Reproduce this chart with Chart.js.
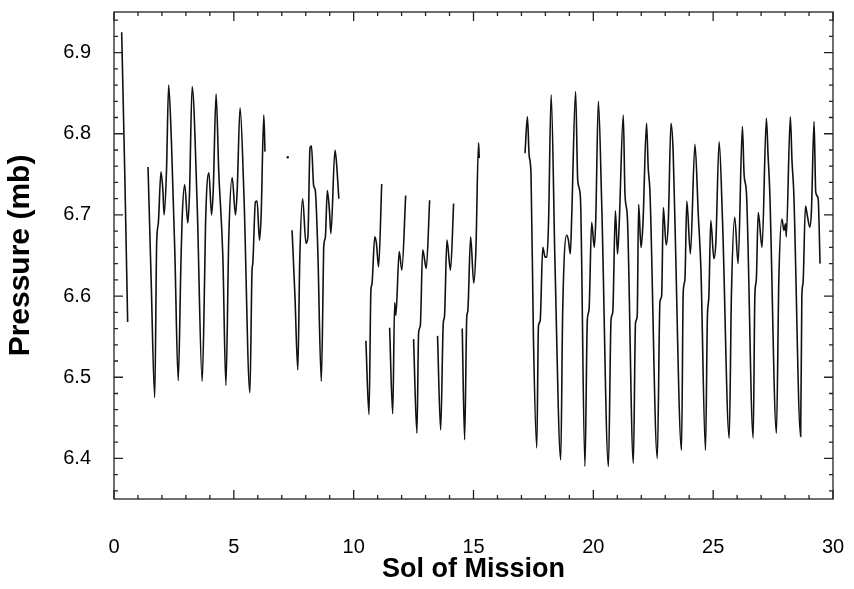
<!DOCTYPE html>
<html>
<head>
<meta charset="utf-8">
<script src="https://cdn.jsdelivr.net/npm/chart.js@4"></script>
<style>
  html, body { margin: 0; padding: 0; background: #fff; }
  #wrap { width: 854px; height: 589px; }
</style>
</head>
<body>
<div id="wrap"><canvas id="myChart" width="854" height="589"></canvas></div>
<script>
// sol of mission, pressure in mb; null pressure = data gap
const sol = [
    0.32, 0.45, 0.57, 1.0,
    1.42, 1.55, 1.70, 1.78, 1.85, 1.96, 2.04, 2.09, 2.19, 2.28, 2.40, 2.54, 2.68, 2.79, 2.84, 2.95,
    3.08, 3.15, 3.26, 3.47, 3.68, 3.79, 3.82, 3.96, 4.07, 4.14, 4.26, 4.37, 4.54, 4.67, 4.79, 4.93,
    5.07, 5.14, 5.26, 5.42, 5.67, 5.76, 5.79, 5.90, 5.97, 6.07, 6.14, 6.25, 6.30, 6.8,
    7.43, 7.55, 7.67, 7.75, 7.87, 8.01, 8.09, 8.18, 8.24, 8.33, 8.40, 8.50, 8.65, 8.74, 8.75, 8.82,
    8.90, 8.99, 9.05, 9.22, 9.29, 9.38, 10.0,
    10.51, 10.64, 10.72, 10.76, 10.88, 10.95, 11.04, 11.17, 11.3,
    11.50, 11.63, 11.71, 11.76, 11.90, 12.01, 12.17, 12.3,
    12.50, 12.64, 12.71, 12.78, 12.88, 13.03, 13.17, 13.3,
    13.50, 13.63, 13.74, 13.79, 13.89, 14.04, 14.17, 14.3,
    14.53, 14.63, 14.72, 14.76, 14.88, 15.01, 15.10, 15.21, 15.24, 16.0,
    17.15, 17.25, 17.32, 17.40, 17.50, 17.64, 17.71, 17.78, 17.89, 17.99, 18.06, 18.13, 18.24, 18.40,
    18.64, 18.72, 18.89, 18.96, 19.04, 19.10, 19.26, 19.35, 19.46, 19.65, 19.75, 19.82, 19.93, 20.04,
    20.10, 20.21, 20.35, 20.63, 20.74, 20.81, 20.92, 21.01, 21.08, 21.25, 21.32, 21.42, 21.67, 21.76,
    21.83, 21.89, 21.99, 22.07, 22.22, 22.29, 22.36, 22.67, 22.78, 22.85, 22.92, 23.04, 23.13, 23.24,
    23.33, 23.40, 23.68, 23.75, 23.82, 23.90, 24.05, 24.24, 24.38, 24.49, 24.68, 24.76, 24.82, 24.90,
    25.03, 25.11, 25.25, 25.39, 25.67, 25.76, 25.90, 26.04, 26.22, 26.29, 26.39, 26.67, 26.74, 26.80,
    26.88, 27.04, 27.22, 27.29, 27.36, 27.64, 27.74, 27.87, 27.95, 28.02, 28.05, 28.22, 28.29, 28.36,
    28.65, 28.70, 28.75, 28.85, 28.93, 29.03, 29.10, 29.21, 29.28, 29.38, 29.46
];
const pressure = [
    6.925, 6.75, 6.568, null,
    6.759, 6.62, 6.475, 6.665, 6.69, 6.753, 6.73, 6.70, 6.754, 6.86, 6.787, 6.652, 6.496, 6.637, 6.693, 6.737,
    6.69, 6.726, 6.858, 6.713, 6.495, 6.637, 6.689, 6.752, 6.70, 6.73, 6.849, 6.754, 6.65, 6.49, 6.673, 6.746,
    6.70, 6.73, 6.832, 6.726, 6.481, 6.632, 6.64, 6.716, 6.717, 6.669, 6.70, 6.823, 6.778, null,
    6.681, 6.60, 6.509, 6.644, 6.72, 6.665, 6.673, 6.783, 6.785, 6.736, 6.73, 6.66, 6.495, 6.644, 6.66, 6.673,
    6.73, 6.705, 6.677, 6.78, 6.762, 6.72, null,
    6.545, 6.454, 6.608, 6.614, 6.673, 6.665, 6.636, 6.738, null,
    6.561, 6.455, 6.592, 6.576, 6.655, 6.632, 6.724, null,
    6.547, 6.431, 6.555, 6.563, 6.657, 6.634, 6.718, null,
    6.551, 6.435, 6.567, 6.575, 6.669, 6.632, 6.714, null,
    6.56, 6.423, 6.575, 6.581, 6.673, 6.616, 6.657, 6.789, 6.77, null,
    6.776, 6.821, 6.774, 6.75, 6.55, 6.413, 6.563, 6.569, 6.66, 6.648, 6.648, 6.689, 6.848, 6.64,
    6.398, 6.579, 6.675, 6.669, 6.652, 6.70, 6.852, 6.742, 6.722, 6.39, 6.571, 6.583, 6.691, 6.66,
    6.693, 6.84, 6.713, 6.39, 6.571, 6.58, 6.705, 6.652, 6.689, 6.823, 6.726, 6.697, 6.394, 6.567,
    6.575, 6.713, 6.66, 6.689, 6.813, 6.758, 6.73, 6.40, 6.593, 6.60, 6.709, 6.663, 6.693, 6.813,
    6.778, 6.697, 6.41, 6.604, 6.62, 6.717, 6.652, 6.787, 6.70, 6.632, 6.41, 6.575, 6.599, 6.693,
    6.646, 6.665, 6.79, 6.693, 6.425, 6.599, 6.697, 6.64, 6.809, 6.75, 6.726, 6.425, 6.601, 6.62,
    6.703, 6.66, 6.819, 6.774, 6.73, 6.431, 6.62, 6.695, 6.681, 6.689, 6.673, 6.821, 6.766, 6.73,
    6.427, 6.60, 6.616, 6.711, 6.699, 6.685, 6.705, 6.815, 6.728, 6.72, 6.64
];
// single isolated reading
const dotSol = [7.25];
const dotPressure = [6.771];

const xTicks = [0, 5, 10, 15, 20, 25, 30];
const yTicks = [6.4, 6.5, 6.6, 6.7, 6.8, 6.9];

const font = 'Liberation Sans, Arial, Helvetica, sans-serif';

// box with inward ticks on all four sides
const frameTicks = {
    id: 'frameTicks',
    afterDraw(chart) {
        const {ctx, chartArea: a, scales: {x, y}} = chart;
        ctx.save();
        ctx.strokeStyle = '#222';
        ctx.lineWidth = 1.3;
        ctx.strokeRect(a.left, a.top, a.right - a.left, a.bottom - a.top);
        ctx.beginPath();
        for (let s = 0; s <= 30; s++) {
            const px = x.getPixelForValue(s);
            const len = s % 5 === 0 ? 9 : 4;
            ctx.moveTo(px, a.bottom); ctx.lineTo(px, a.bottom - len);
            ctx.moveTo(px, a.top); ctx.lineTo(px, a.top + len);
        }
        for (let k = 318; k <= 347; k++) {
            const py = y.getPixelForValue(k / 50);
            const len = k % 5 === 0 ? 9 : 4;
            ctx.moveTo(a.left, py); ctx.lineTo(a.left + len, py);
            ctx.moveTo(a.right, py); ctx.lineTo(a.right - len, py);
        }
        ctx.stroke();
        ctx.restore();
    }
};

// invisible tick marks are used as the label gap, so the chart area is not padded
const hiddenGrid = len => ({
    display: true, drawOnChartArea: false, drawTicks: true,
    tickLength: len, tickColor: 'rgba(0,0,0,0)'
});

const config = {
    type: 'line',
    data: {
        datasets: [{
            data: sol.map((v, i) => ({x: v, y: pressure[i]})),
            borderColor: '#111',
            borderWidth: 1.6,
            pointRadius: 0,
            cubicInterpolationMode: 'monotone',
            spanGaps: false,
        }, {
            data: dotSol.map((v, i) => ({x: v, y: dotPressure[i]})),
            showLine: false,
            pointRadius: 1.2,
            backgroundColor: '#111',
            borderWidth: 0,
        }]
    },
    options: {
        responsive: false,
        animation: false,
        layout: { padding: { top: 6, right: 21, left: 0, bottom: 0 } },
        plugins: { legend: { display: false }, tooltip: { enabled: false } },
        scales: {
            x: {
                type: 'linear',
                min: 0, max: 30,
                afterBuildTicks: s => { s.ticks = xTicks.map(v => ({value: v})); },
                afterFit: s => { s.height = 90; },
                grid: hiddenGrid(36),
                border: { display: false },
                ticks: { color: '#000', padding: 0, maxRotation: 0, font: { family: font, size: 20 } },
                title: {
                    display: true, text: 'Sol of Mission', color: '#000',
                    font: { family: font, size: 27, weight: 'bold' },
                    padding: { top: 0, bottom: 3 }
                }
            },
            y: {
                min: 6.35, max: 6.95,
                afterBuildTicks: s => { s.ticks = yTicks.map(v => ({value: v})); },
                afterFit: s => { s.width = 114; },
                grid: hiddenGrid(23),
                border: { display: false },
                ticks: {
                    color: '#000', padding: 0, font: { family: font, size: 20 },
                    callback: v => v.toFixed(1)
                },
                title: {
                    display: true, text: 'Pressure (mb)', color: '#000',
                    font: { family: font, size: 30, weight: 'bold' },
                    padding: { top: 3, bottom: 0 }
                }
            }
        }
    },
    plugins: [frameTicks]
};

const myChart = new Chart(document.getElementById('myChart'), config);
</script>
</body>
</html>
